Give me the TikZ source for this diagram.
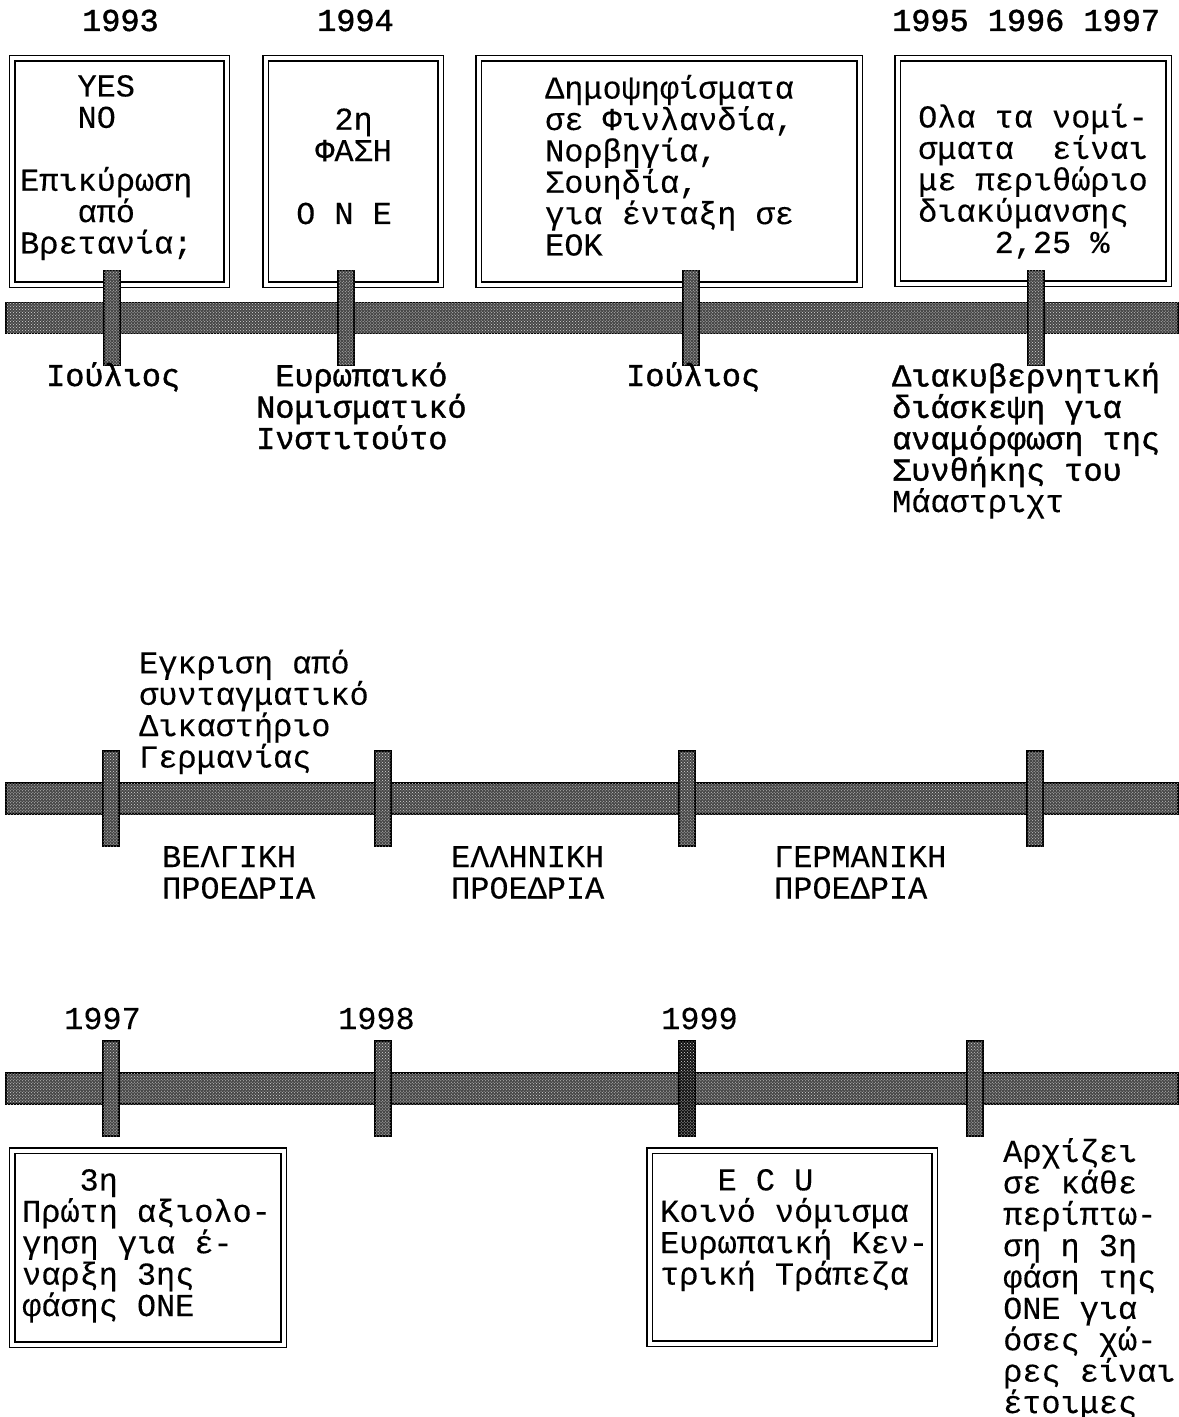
\documentclass[tikz,border=0pt]{standalone}
\usepackage{fontspec}
\setmonofont{Liberation Mono}
\newfontfamily\lightmono{Liberation Mono}[FakeBold=0.2]
\newfontfamily\heavymono{Liberation Mono}[FakeBold=1.3]
\frenchspacing
\usetikzlibrary{patterns}

\begin{document}
\begin{tikzpicture}[x=1bp,y=-1bp,
  bar/.style={draw=black,fill=black!72,line width=1.8bp,minimum width=1172bp,
    minimum height=31bp,inner sep=0pt,
    postaction={pattern=crosshatch dots,pattern color=white!85!black}},
  tick/.style={draw=black,fill=black!72,line width=1.5bp,minimum width=16bp,
    minimum height=95bp,inner sep=0pt,
    postaction={pattern=crosshatch dots,pattern color=white!85!black}},
  frame/.style={draw,double,line width=1.4bp,double distance=4bp,inner sep=0pt},
  txt/.style={anchor=base west,align=left,inner sep=0pt,
    font=\lightmono\fontsize{32}{31.5}\selectfont},
  hv/.style={txt,font=\heavymono\fontsize{32}{31.5}\selectfont}]
\useasboundingbox (0,0) rectangle (1178,1417);

% first line: 1993 - 1997 (multi-line texts sit on their last baseline)
\node[hv] (y93) at (82,31) {1993};
\node[hv] (y94) at (317,31) {1994};
\node[hv] (y95) at (892,31) {1995 1996 1997};
\node[frame,minimum width=214bp,minimum height=226bp] (yesno) at (119.5,171.5) {};
\node[frame,minimum width=175bp,minimum height=226bp] (phase) at (353,171.5) {};
\node[frame,minimum width=381bp,minimum height=226bp] (vote) at (669,171.5) {};
\node[frame,minimum width=271bp,minimum height=225bp] (band) at (1033,171) {};
\node[txt] (yesnotx) at (20,253.5) {~~~YES\\~~~NO\\[31.5bp]Επικύρωση\\~~~από\\Βρετανία;};
\node[txt] (phasetx) at (296,224) {~~2η\\~ΦΑΣΗ\\[31.5bp]Ο~Ν~Ε};
\node[txt] (votetx) at (545,255.5) {Δημοψηφίσματα\\σε Φινλανδία,\\Νορβηγία,\\Σουηδία,\\για ένταξη σε\\ΕΟΚ};
\node[txt] (bandtx) at (918,253) {Ολα τα νομί-\\σματα~~είναι\\με περιθώριο\\διακύμανσης\\~~~~2,25~\%};
\node[bar] (bar1) at (592,318) {};
\node[tick] (t93) at (112,318) {};
\node[tick] (t94) at (346,318) {};
\node[tick] (t95) at (691,318) {};
\node[tick] (t97) at (1036,318) {};
\node[hv] (jul93) at (46,386) {Ιούλιος};
\node[hv] (emi) at (256,449) {~Ευρωπαικό\\Νομισματικό\\Ινστιτούτο};
\node[hv] (jul95) at (626,386) {Ιούλιος};
\node[hv] (igc) at (892,512) {Διακυβερνητική\\διάσκεψη για\\αναμόρφωση της\\Συνθήκης του\\{\lightmono Μάαστριχτ}};

% second line: presidencies
\node[txt] (court) at (139,767.5) {Εγκριση από\\συνταγματικό\\Δικαστήριο\\Γερμανίας};
\node[bar] (bar2) at (592,798.5) {};
\node[tick] (p1) at (111,798.5) {};
\node[tick] (p2) at (383,798.5) {};
\node[tick] (p3) at (687,798.5) {};
\node[tick] (p4) at (1035,798.5) {};
\node[txt] (be) at (162,898.5) {ΒΕΛΓΙΚΗ\\ΠΡΟΕΔΡΙΑ};
\node[txt] (gr) at (451,898.5) {ΕΛΛΗΝΙΚΗ\\ΠΡΟΕΔΡΙΑ};
\node[txt] (de) at (774,898.5) {ΓΕΡΜΑΝΙΚΗ\\ΠΡΟΕΔΡΙΑ};

% third line: 1997 - 1999
\node[txt] (y97) at (64,1029) {1997};
\node[txt] (y98) at (338,1029) {1998};
\node[txt] (y99) at (661,1029) {1999};
\node[bar] (bar3) at (592,1088.5) {};
\node[tick] (t97b) at (111,1088.5) {};
\node[tick] (t98) at (383,1088.5) {};
\node[tick,fill=black!92] (t99) at (687,1088.5) {};
\node[tick] (t99b) at (975,1088.5) {};
\node[frame,minimum width=271bp,minimum height=194bp] (eval) at (148,1247.5) {};
\node[frame,minimum width=285bp,minimum height=193bp] (ecu) at (792,1247) {};
\node[txt] (evaltx) at (22,1316) {~~~3η\\Πρώτη αξιολο-\\γηση για έ-\\ναρξη 3ης\\φάσης ΟΝΕ};
\node[txt] (ecutx) at (660,1284.5) {~~~E~C~U\\Κοινό νόμισμα\\Ευρωπαική Κεν-\\τρική Τράπεζα};
\node[txt] (start) at (1003,1413) {Αρχίζει\\σε κάθε\\περίπτω-\\ση η 3η\\φάση της\\ΟΝΕ για\\όσες χώ-\\ρες είναι\\έτοιμες};
\end{tikzpicture}
\end{document}
